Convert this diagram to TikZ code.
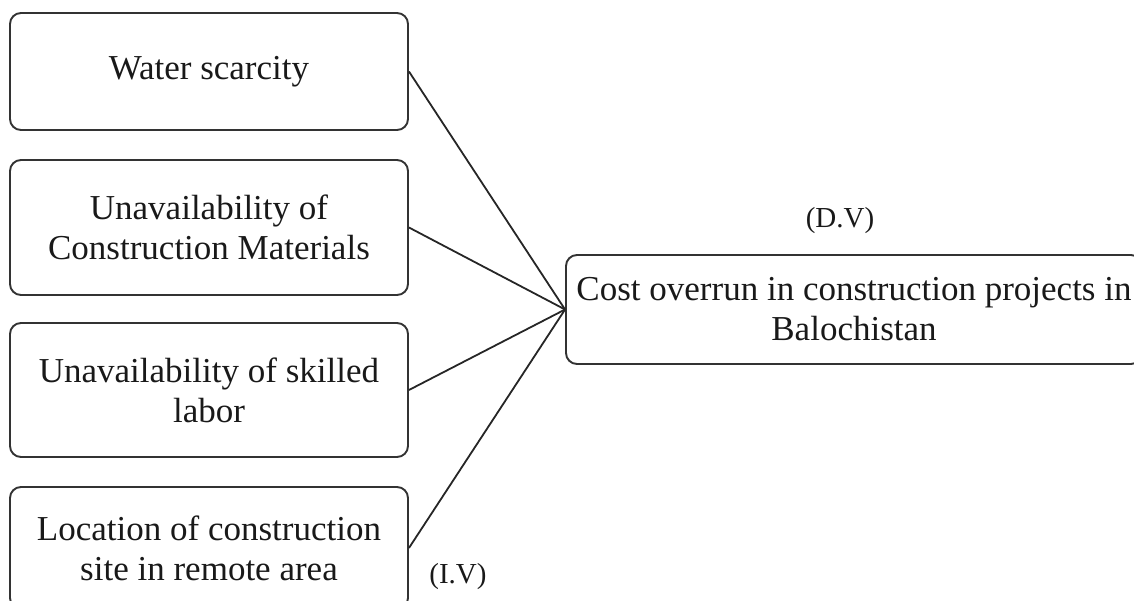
\documentclass[tikz,border=0pt]{standalone}
\usepackage{fontspec}
\setmainfont{Liberation Serif}
\begin{document}
\begin{tikzpicture}[x=1pt,y=-1pt,
  box/.style={draw=black!80, line width=1.9pt, rounded corners=11pt, align=center,
    font=\fontsize{35}{40}\selectfont, inner sep=0pt, text=black!90},
  link/.style={draw=black!85, line width=1.8pt},
  tag/.style={font=\fontsize{29}{33}\selectfont, text=black!90}]
\useasboundingbox (0,0) rectangle (1134,601);
\clip (0,0) rectangle (1134,601);
\node[box, minimum width=398pt, minimum height=117pt] (w) at (209,71.5) {Water scarcity};
\node[box, minimum width=398pt, minimum height=135pt] (m) at (209,227.5) {Unavailability of\\Construction Materials};
\node[box, minimum width=398pt, minimum height=134pt] (s) at (209,390) {Unavailability of skilled\\labor};
\node[box, minimum width=398pt, minimum height=122pt] (l) at (209,548) {Location of construction\\site in remote area};
\node[box, minimum width=576pt, minimum height=109pt] (c) at (854,309.5) {Cost overrun in construction projects in\\Balochistan};
\node[tag] (dv) at (840,221) {(D.V)};
\node[tag] (iv) at (458,577) {(I.V)};
\draw[link] (w.east) -- (c.west);
\draw[link] (m.east) -- (c.west);
\draw[link] (s.east) -- (c.west);
\draw[link] (l.east) -- (c.west);
\end{tikzpicture}
\end{document}
